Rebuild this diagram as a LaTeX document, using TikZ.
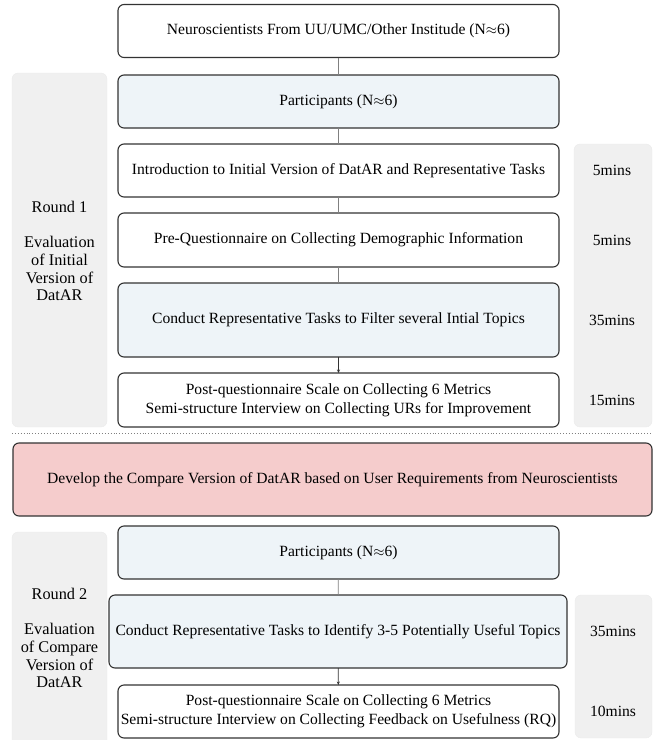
\documentclass[tikz,border=0pt]{standalone}
\usepackage{fontspec}
\setmainfont{Liberation Serif}
\usetikzlibrary{arrows.meta}
\definecolor{boxline}{HTML}{333333}
\definecolor{linkgray}{HTML}{808080}
\definecolor{partblue}{HTML}{EEF4F8}
\definecolor{devpink}{HTML}{F5CCCC}
\definecolor{panelgray}{HTML}{F0F0F0}

\begin{document}
\begin{tikzpicture}[x=1pt, y=-1pt,
  font=\fontsize{15.6}{18.7}\selectfont,
  stage/.style={draw=boxline, line width=1.1pt, rounded corners=6pt, fill=white,
    align=center, inner sep=0pt, outer sep=0pt, minimum width=441pt, minimum height=#1},
  stage/.default=53pt,
  panel/.style={fill=panelgray, draw=black!8, rounded corners=6pt},
  side/.style={align=center, font=\fontsize{16.3}{17.7}\selectfont},
  link/.style={draw=linkgray, line width=0.8pt},
  flow/.style={draw=boxline, line width=0.8pt, -{Stealth[length=3.5pt, width=3pt]}}]

\useasboundingbox (0,0) rectangle (654,740);

% side panels
\draw[panel] (12,73) rectangle (107,427);
\draw[panel] (574,144) rectangle (652,427);
\draw[panel] (12,532) rectangle (107,750);
\draw[panel] (575,595) rectangle (652,738);

\node[side] (r1) at (59.5,251) {Round 1\\[17.7pt]Evaluation\\of Initial\\Version of\\DatAR};
\node[side] (r2) at (59.5,638) {Round 2\\[17.7pt]Evaluation\\of Compare\\Version of\\DatAR};

% round 1
\node[stage] (pool) at (338.5,31) {Neuroscientists From UU/UMC/Other Institude (N\(\approx\)6)};
\node[stage, fill=partblue] (part1) at (338.5,101.5) {Participants (N\(\approx\)6)};
\node[stage] (intro) at (338.5,170.5) {Introduction to Initial Version of DatAR and Representative Tasks};
\node[stage=54pt] (preq) at (338.5,240) {Pre-Questionnaire on Collecting Demographic Information};
\node[stage=74pt, fill=partblue] (task1) at (338.5,320) {Conduct Representative Tasks to Filter several Intial Topics};
\node[stage=54pt] (post1) at (338.5,400) {Post-questionnaire Scale on Collecting 6 Metrics\\Semi-structure Interview on Collecting URs for Improvement};

\node (t-intro) at (612,170.5) {5mins};
\node (t-preq) at (612,240) {5mins};
\node (t-task1) at (612,320) {35mins};
\node (t-post1) at (612,400) {15mins};

\draw[link] (pool) -- (part1);
\draw[link] (part1) -- (intro);
\draw[link] (intro) -- (preq);
\draw[link] (preq) -- (task1);
\draw[flow] (task1) -- (post1);

\draw[linkgray, line width=0.9pt, dotted] (12,433.5) -- (652,433.5);

% development
\node[stage=73pt, minimum width=639pt, fill=devpink] (dev) at (332.5,479.5) {Develop the Compare Version of DatAR based on User Requirements from Neuroscientists};

% round 2
\node[stage, fill=partblue] (part2) at (338.5,552.5) {Participants (N\(\approx\)6)};
\node[stage=73pt, minimum width=458pt, fill=partblue] (task2) at (338,631.5) {Conduct Representative Tasks to Identify 3-5 Potentially Useful Topics};
\node[stage] (post2) at (338.5,711.5) {Post-questionnaire Scale on Collecting 6 Metrics\\Semi-structure Interview on Collecting Feedback on Usefulness (RQ)};

\node (t-task2) at (613,631.5) {35mins};
\node (t-post2) at (613,711.5) {10mins};

\draw[link] (part2) -- (task2);
\draw[flow] (task2) -- (post2);

\end{tikzpicture}
\end{document}
